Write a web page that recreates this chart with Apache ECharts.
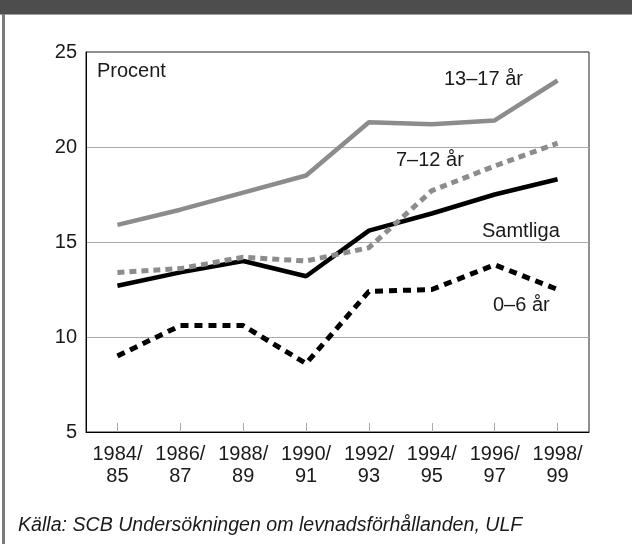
<!DOCTYPE html>
<html>
<head>
<meta charset="utf-8">
<script src="https://cdn.jsdelivr.net/npm/echarts@6/dist/echarts.min.js"></script>
<style>html,body{margin:0;padding:0;background:#fff}#c{width:632px;height:544px}</style>
</head>
<body>
<div id="c"></div>
<script>
const categories = ['1984/\n85','1986/\n87','1988/\n89','1990/\n91','1992/\n93','1994/\n95','1996/\n97','1998/\n99'];
const yTicks = [5, 10, 15, 20, 25];
const age13_17 = [15.9, 16.7, 17.6, 18.5, 21.3, 21.2, 21.4, 23.5];
const age7_12 = [13.4, 13.6, 14.2, 14.0, 14.7, 17.7, 19.0, 20.2];
const samtliga = [12.7, 13.4, 14.0, 13.2, 15.6, 16.5, 17.5, 18.3];
const age0_6 = [9.0, 10.6, 10.6, 8.6, 12.4, 12.5, 13.8, 12.5];
const seriesNames = ['13–17 år', '7–12 år', 'Samtliga', '0–6 år'];
const unitLabel = 'Procent';
const sourceText = 'Källa: SCB Undersökningen om levnadsförhållanden, ULF';

const FONT = '"Liberation Sans", Arial, sans-serif';
const chart = echarts.init(document.getElementById('c'), null, {renderer: 'canvas'});

function label(text, x, y, size) {
  return {type: 'text', x: x, y: y, z: 10,
    style: {text: text, fill: '#1a1a1a', font: (size || 20) + 'px ' + FONT, textAlign: 'left', textVerticalAlign: 'middle', verticalAlign: 'middle'}};
}

chart.setOption({
  animation: false,
  backgroundColor: '#fff',
  grid: {left: 86, top: 52, width: 503, height: 380, show: true, borderColor: '#222', borderWidth: 1, backgroundColor: 'transparent'},
  xAxis: {
    type: 'category', data: categories, boundaryGap: true,
    axisLine: {show: true, lineStyle: {color: '#000', width: 1}},
    axisTick: {show: true, inside: true, alignWithLabel: true, length: 9, lineStyle: {color: '#aaa', width: 1}},
    axisLabel: {interval: 0, margin: 11, fontSize: 20, fontFamily: FONT, color: '#1a1a1a', lineHeight: 22, align: 'center'},
    splitLine: {show: false}
  },
  yAxis: {
    type: 'value', min: yTicks[0], max: yTicks[yTicks.length - 1], interval: 5,
    axisLine: {show: true, lineStyle: {color: '#000', width: 1}},
    axisTick: {show: false},
    axisLabel: {margin: 9, fontSize: 20, fontFamily: FONT, color: '#1a1a1a'},
    splitLine: {show: true, showMinLine: false, showMaxLine: false, lineStyle: {color: '#aaa', width: 1}}
  },
  series: [
    {name: seriesNames[0], type: 'line', data: age13_17, symbol: 'none', lineStyle: {color: '#8c8c8c', width: 4.5, type: 'solid'}},
    {name: seriesNames[2], type: 'line', data: samtliga, symbol: 'none', lineStyle: {color: '#000', width: 4.5, type: 'solid'}},
    {name: seriesNames[1], type: 'line', data: age7_12, symbol: 'none', lineStyle: {color: '#8c8c8c', width: 5, type: [7, 5]}},
    {name: seriesNames[3], type: 'line', data: age0_6, symbol: 'none', lineStyle: {color: '#000', width: 5, type: [8, 6]}}
  ],
  graphic: [
    {type: 'rect', shape: {x: 0, y: 0, width: 632, height: 14}, style: {fill: '#4d4d4d'}, z: 20},
    {type: 'rect', shape: {x: 0, y: 14, width: 632, height: 1}, style: {fill: '#a0a0a0'}, z: 20},
    {type: 'rect', shape: {x: 2, y: 14, width: 3, height: 530}, style: {fill: '#7a7a7a'}, z: 20},
    label(unitLabel, 97, 71),
    label(seriesNames[0], 444, 79),
    label(seriesNames[1], 396, 160),
    label(seriesNames[2], 482, 231),
    label(seriesNames[3], 493, 305),
    {type: 'text', x: 18, y: 526, z: 10,
      style: {text: sourceText, fill: '#1a1a1a', font: 'italic 19.6px ' + FONT, textAlign: 'left', verticalAlign: 'middle'}}
  ]
});
</script>
</body>
</html>
